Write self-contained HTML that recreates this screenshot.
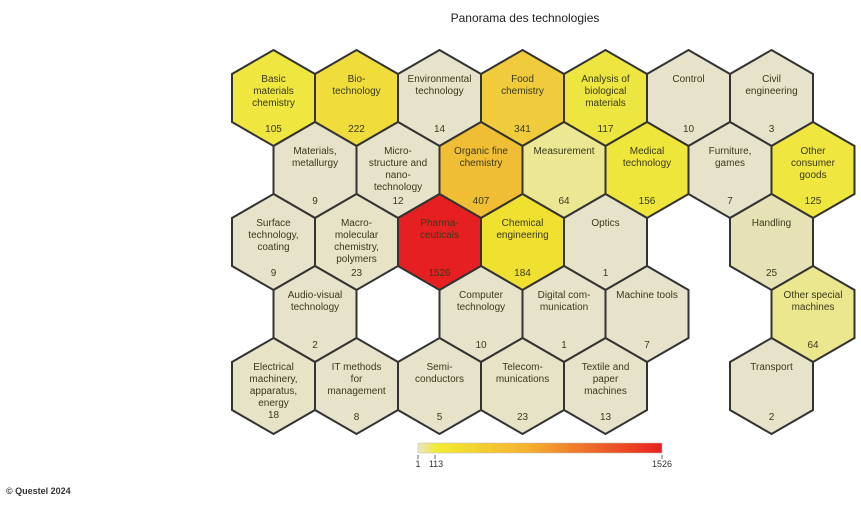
<!DOCTYPE html>
<html><head><meta charset="utf-8"><style>
body{margin:0;background:#fff;width:861px;height:503px;overflow:hidden}
svg text{font-family:"Liberation Sans",sans-serif;fill:#3a3a1a}
</style></head><body>
<svg width="861" height="503" viewBox="0 0 861 503">
<defs>
<polygon id="h" points="0,-48 41.5,-24 41.5,24 0,48 -41.5,24 -41.5,-24"/>
<linearGradient id="g" x1="0" x2="1"><stop offset="0" stop-color="#e8e4c8"/><stop offset="0.08" stop-color="#f2ec30"/><stop offset="0.45" stop-color="#f4b030"/><stop offset="1" stop-color="#e82020"/></linearGradient>
</defs>
<text x="525" y="22" font-size="12" text-anchor="middle" style="fill:#222">Panorama des technologies</text>
<g stroke="#333" stroke-width="2" font-size="10" text-anchor="middle">
<!-- row1 y=98 -->
<g transform="translate(273.5,98)"><use href="#h" fill="#efe640"/><text y="-16" stroke="none">Basic</text><text y="-4" stroke="none">materials</text><text y="8" stroke="none">chemistry</text><text y="34" stroke="none">105</text></g>
<g transform="translate(356.5,98)"><use href="#h" fill="#f0dc3a"/><text y="-16" stroke="none">Bio-</text><text y="-4" stroke="none">technology</text><text y="34" stroke="none">222</text></g>
<g transform="translate(439.5,98)"><use href="#h" fill="#e6e3ca"/><text y="-16" stroke="none">Environmental</text><text y="-4" stroke="none">technology</text><text y="34" stroke="none">14</text></g>
<g transform="translate(522.5,98)"><use href="#h" fill="#f0cc3c"/><text y="-16" stroke="none">Food</text><text y="-4" stroke="none">chemistry</text><text y="34" stroke="none">341</text></g>
<g transform="translate(605.5,98)"><use href="#h" fill="#eee640"/><text y="-16" stroke="none">Analysis of</text><text y="-4" stroke="none">biological</text><text y="8" stroke="none">materials</text><text y="34" stroke="none">117</text></g>
<g transform="translate(688.5,98)"><use href="#h" fill="#e6e3ca"/><text y="-16" stroke="none">Control</text><text y="34" stroke="none">10</text></g>
<g transform="translate(771.5,98)"><use href="#h" fill="#e6e3ca"/><text y="-16" stroke="none">Civil</text><text y="-4" stroke="none">engineering</text><text y="34" stroke="none">3</text></g>
<!-- row2 y=170 -->
<g transform="translate(315,170)"><use href="#h" fill="#e6e3ca"/><text y="-16" stroke="none">Materials,</text><text y="-4" stroke="none">metallurgy</text><text y="34" stroke="none">9</text></g>
<g transform="translate(398,170)"><use href="#h" fill="#e6e3ca"/><text y="-16" stroke="none">Micro-</text><text y="-4" stroke="none">structure and</text><text y="8" stroke="none">nano-</text><text y="20" stroke="none">technology</text><text y="34" stroke="none">12</text></g>
<g transform="translate(481,170)"><use href="#h" fill="#f0be34"/><text y="-16" stroke="none">Organic fine</text><text y="-4" stroke="none">chemistry</text><text y="34" stroke="none">407</text></g>
<g transform="translate(564,170)"><use href="#h" fill="#ebe792"/><text y="-16" stroke="none">Measurement</text><text y="34" stroke="none">64</text></g>
<g transform="translate(647,170)"><use href="#h" fill="#efe63c"/><text y="-16" stroke="none">Medical</text><text y="-4" stroke="none">technology</text><text y="34" stroke="none">156</text></g>
<g transform="translate(730,170)"><use href="#h" fill="#e6e3ca"/><text y="-16" stroke="none">Furniture,</text><text y="-4" stroke="none">games</text><text y="34" stroke="none">7</text></g>
<g transform="translate(813,170)"><use href="#h" fill="#efe640"/><text y="-16" stroke="none">Other</text><text y="-4" stroke="none">consumer</text><text y="8" stroke="none">goods</text><text y="34" stroke="none">125</text></g>
<!-- row3 y=242 -->
<g transform="translate(273.5,242)"><use href="#h" fill="#e6e3ca"/><text y="-16" stroke="none">Surface</text><text y="-4" stroke="none">technology,</text><text y="8" stroke="none">coating</text><text y="34" stroke="none">9</text></g>
<g transform="translate(356.5,242)"><use href="#h" fill="#e6e3c6"/><text y="-16" stroke="none">Macro-</text><text y="-4" stroke="none">molecular</text><text y="8" stroke="none">chemistry,</text><text y="20" stroke="none">polymers</text><text y="34" stroke="none">23</text></g>
<g transform="translate(439.5,242)"><use href="#h" fill="#e62020"/><text y="-16" stroke="none">Pharma-</text><text y="-4" stroke="none">ceuticals</text><text y="34" stroke="none">1526</text></g>
<g transform="translate(522.5,242)"><use href="#h" fill="#f0e030"/><text y="-16" stroke="none">Chemical</text><text y="-4" stroke="none">engineering</text><text y="34" stroke="none">184</text></g>
<g transform="translate(605.5,242)"><use href="#h" fill="#e6e3ca"/><text y="-16" stroke="none">Optics</text><text y="34" stroke="none">1</text></g>
<g transform="translate(771.5,242)"><use href="#h" fill="#e6e2b6"/><text y="-16" stroke="none">Handling</text><text y="34" stroke="none">25</text></g>
<!-- row4 y=314 -->
<g transform="translate(315,314)"><use href="#h" fill="#e6e3ca"/><text y="-16" stroke="none">Audio-visual</text><text y="-4" stroke="none">technology</text><text y="34" stroke="none">2</text></g>
<g transform="translate(481,314)"><use href="#h" fill="#e6e3ca"/><text y="-16" stroke="none">Computer</text><text y="-4" stroke="none">technology</text><text y="34" stroke="none">10</text></g>
<g transform="translate(564,314)"><use href="#h" fill="#e6e3ca"/><text y="-16" stroke="none">Digital com-</text><text y="-4" stroke="none">munication</text><text y="34" stroke="none">1</text></g>
<g transform="translate(647,314)"><use href="#h" fill="#e6e3ca"/><text y="-16" stroke="none">Machine tools</text><text y="34" stroke="none">7</text></g>
<g transform="translate(813,314)"><use href="#h" fill="#ebe78e"/><text y="-16" stroke="none">Other special</text><text y="-4" stroke="none">machines</text><text y="34" stroke="none">64</text></g>
<!-- row5 y=386 -->
<g transform="translate(273.5,386)"><use href="#h" fill="#e6e3c6"/><text y="-16" stroke="none">Electrical</text><text y="-4" stroke="none">machinery,</text><text y="8" stroke="none">apparatus,</text><text y="20" stroke="none">energy</text><text y="32" stroke="none">18</text></g>
<g transform="translate(356.5,386)"><use href="#h" fill="#e6e3ca"/><text y="-16" stroke="none">IT methods</text><text y="-4" stroke="none">for</text><text y="8" stroke="none">management</text><text y="34" stroke="none">8</text></g>
<g transform="translate(439.5,386)"><use href="#h" fill="#e6e3ca"/><text y="-16" stroke="none">Semi-</text><text y="-4" stroke="none">conductors</text><text y="34" stroke="none">5</text></g>
<g transform="translate(522.5,386)"><use href="#h" fill="#e6e3c6"/><text y="-16" stroke="none">Telecom-</text><text y="-4" stroke="none">munications</text><text y="34" stroke="none">23</text></g>
<g transform="translate(605.5,386)"><use href="#h" fill="#e6e3ca"/><text y="-16" stroke="none">Textile and</text><text y="-4" stroke="none">paper</text><text y="8" stroke="none">machines</text><text y="34" stroke="none">13</text></g>
<g transform="translate(771.5,386)"><use href="#h" fill="#e6e3ca"/><text y="-16" stroke="none">Transport</text><text y="34" stroke="none">2</text></g>
</g>
<rect x="418" y="443" width="244" height="10" fill="url(#g)" stroke="#bbb" stroke-width="0.5"/>
<g stroke="#666" stroke-width="1"><line x1="418" y1="455" x2="418" y2="459"/><line x1="435" y1="455" x2="435" y2="459"/><line x1="662" y1="455" x2="662" y2="459"/></g>
<g font-size="9" text-anchor="middle" style="fill:#333"><text x="418" y="467" style="fill:#333">1</text><text x="436" y="467" style="fill:#333">113</text><text x="662" y="467" style="fill:#333">1526</text></g>
<text x="6" y="494" font-size="9" font-weight="bold" style="fill:#333">© Questel 2024</text>
</svg>
</body></html>
